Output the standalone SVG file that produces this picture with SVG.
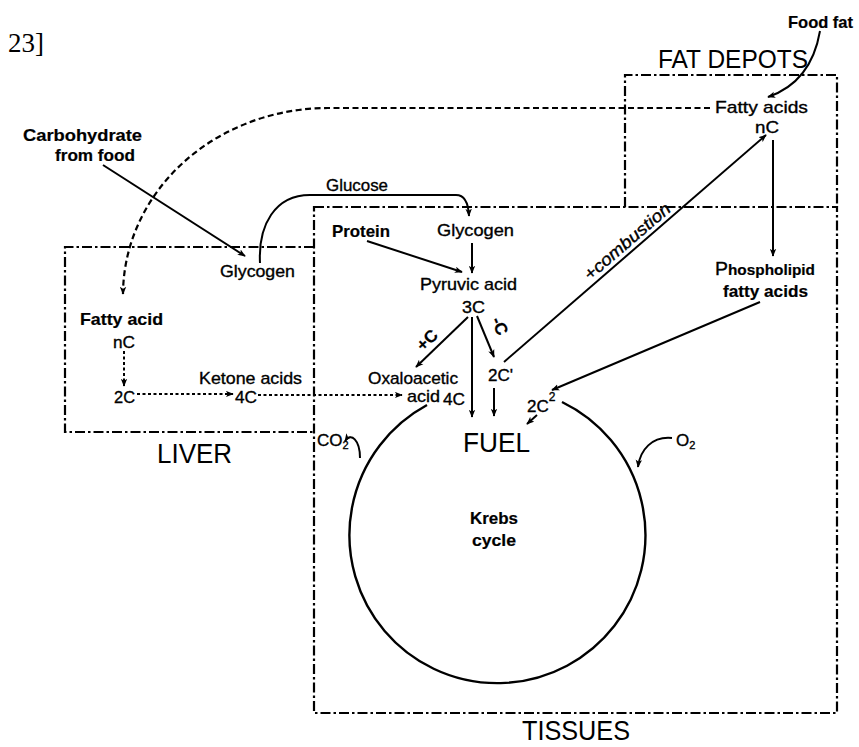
<svg xmlns="http://www.w3.org/2000/svg" width="859" height="747" viewBox="0 0 859 747">
<defs>
<style>
.t{font-family:"Liberation Sans",Arial,sans-serif;font-size:17px;fill:#000;stroke:#000;stroke-width:0.35}
.b{font-weight:bold;stroke-width:0.2}
.h{font-family:"Liberation Sans",Arial,sans-serif;fill:#000}
.box{fill:none;stroke:#000;stroke-width:2.2;stroke-dasharray:10 3 2.5 3}
.ln{fill:none;stroke:#000;stroke-width:2;marker-end:url(#ah)}
.dot{fill:none;stroke:#000;stroke-width:2;stroke-dasharray:3 2.5;marker-end:url(#ah)}
.dash{fill:none;stroke:#000;stroke-width:2.2;stroke-dasharray:6 3.5;marker-end:url(#ah)}
</style>
<marker id="ah" viewBox="0 0 10 8" refX="9" refY="4" markerWidth="8" markerHeight="7" markerUnits="userSpaceOnUse" orient="auto">
<path d="M0,0 L10,4 L0,8 L2.5,4 z" fill="#000"/>
</marker>
</defs>
<rect width="859" height="747" fill="#fff"/>

<text x="8" y="52" style="font-family:'Liberation Serif',serif;font-size:27px;fill:#000">23]</text>

<g id="fat-depots">
<path class="box" d="M625 207 V75 H837 V207"/>
<text class="h" x="658" y="68" font-size="25" textLength="150" lengthAdjust="spacingAndGlyphs">FAT DEPOTS</text>
</g>
<g id="tissues">
<rect class="box" x="314" y="207" width="523" height="506"/>
<text class="h" x="522" y="740" font-size="28" textLength="108" lengthAdjust="spacingAndGlyphs">TISSUES</text>
</g>
<g id="liver">
<path class="box" d="M314 247 H65 V432 H314"/>
<text class="h" x="157" y="463" font-size="27" textLength="75" lengthAdjust="spacingAndGlyphs">LIVER</text>
</g>

<g id="connectors">
<path class="ln" d="M103 165 L245 256"/>
<path class="ln" d="M260 263 C258 225 275 195 310 195 L456 195 Q468 195 469 216"/>
<path class="ln" d="M367 241 L462 272"/>
<path class="ln" d="M472 243 L472 273"/>
<path class="ln" d="M468 317 L416 367"/>
<path class="ln" d="M472 317 L472 417"/>
<path class="ln" d="M477 316 L494 357"/>
<path class="ln" d="M494 388 L494 416"/>
<path class="ln" d="M537 415 L527 424"/>
<path class="ln" d="M504 362 L766 135"/>
<path class="ln" d="M773 140 L773 256"/>
<path class="ln" d="M760 302 L552 390"/>
<path class="ln" d="M820 31 C815 60 800 86 768 97"/>
<path class="dash" d="M710 108 L328 108 A205 187 0 0 0 123 294"/>
<path class="dot" d="M124 351 L124 386"/>
<path class="dot" d="M137 394 L233 394"/>
<path class="dot" d="M258 395 L402 395"/>
<path class="ln" d="M360 458 C360 440 351 432 345 441"/>
<path class="ln" d="M672 438 C652 436 640 450 638 467"/>
</g>

<g id="food-fat"><text class="t b" x="788" y="28" font-size="16" textLength="65" lengthAdjust="spacingAndGlyphs">Food fat</text></g>
<g id="fatty-acids-depot">
<text class="t" x="715" y="113" textLength="93" lengthAdjust="spacingAndGlyphs">Fatty acids</text>
<text class="t" x="755" y="133" textLength="24" lengthAdjust="spacingAndGlyphs">nC</text>
</g>
<g id="carbohydrate">
<text class="t b" x="23" y="141" font-size="18" textLength="119" lengthAdjust="spacingAndGlyphs">Carbohydrate</text>
<text class="t b" x="55" y="161" textLength="80" lengthAdjust="spacingAndGlyphs">from food</text>
</g>
<g id="glucose"><text class="t" x="326" y="191" textLength="62" lengthAdjust="spacingAndGlyphs">Glucose</text></g>
<g id="protein"><text class="t b" x="332" y="237" textLength="58" lengthAdjust="spacingAndGlyphs">Protein</text></g>
<g id="glycogen-tissues"><text class="t" x="437" y="236" font-size="18" textLength="77" lengthAdjust="spacingAndGlyphs">Glycogen</text></g>
<g id="glycogen-liver"><text class="t" x="220" y="277" font-size="18" textLength="75" lengthAdjust="spacingAndGlyphs">Glycogen</text></g>
<g id="pyruvic-acid">
<text class="t" x="420" y="290" textLength="97" lengthAdjust="spacingAndGlyphs">Pyruvic acid</text>
<text class="t" x="462" y="313" font-size="20" textLength="23" lengthAdjust="spacingAndGlyphs">3C</text>
</g>
<g id="label-plus-c"><text class="t b" x="0" y="0" font-size="16" transform="translate(423 352) rotate(-44)">+C</text></g>
<g id="label-minus-c"><text class="t b" x="0" y="0" font-size="16" transform="translate(491 320) rotate(67)">-C</text></g>
<g id="label-combustion"><text class="t" x="0" y="0" font-style="italic" transform="translate(590 281) rotate(-40.7)" textLength="108" lengthAdjust="spacingAndGlyphs">+combustion</text></g>
<g id="fatty-acid-liver">
<text class="t b" x="80" y="325" textLength="83" lengthAdjust="spacingAndGlyphs">Fatty acid</text>
<text class="t" x="113" y="348" font-size="18" textLength="22" lengthAdjust="spacingAndGlyphs">nC</text>
</g>
<g id="phospholipid">
<text class="t" x="715" y="275" textLength="100" lengthAdjust="spacingAndGlyphs"><tspan font-size="19">P</tspan><tspan class="b" font-size="15">hospholipid</tspan></text>
<text class="t b" x="723" y="297" textLength="85" lengthAdjust="spacingAndGlyphs">fatty acids</text>
</g>
<g id="ketone-acids"><text class="t" x="199" y="384" textLength="103" lengthAdjust="spacingAndGlyphs">Ketone acids</text></g>
<g id="liver-2c"><text class="t" x="114" y="403" font-size="18" textLength="21" lengthAdjust="spacingAndGlyphs">2C</text></g>
<g id="liver-4c"><text class="t" x="235" y="403" font-size="18" textLength="22" lengthAdjust="spacingAndGlyphs">4C</text></g>
<g id="oxaloacetic">
<text class="t" x="368" y="384" font-size="16" textLength="90" lengthAdjust="spacingAndGlyphs">Oxaloacetic</text>
<text class="t" x="407" y="402" font-size="16" textLength="33" lengthAdjust="spacingAndGlyphs">acid</text>
<text class="t" x="443" y="405" font-size="18" textLength="22" lengthAdjust="spacingAndGlyphs">4C</text>
</g>
<g id="two-c-prime"><text class="t" x="488" y="381" font-size="18" textLength="25" lengthAdjust="spacingAndGlyphs">2C'</text></g>
<g id="two-c-2"><text class="t" x="527" y="412" font-size="18">2C<tspan font-size="12" dy="-11">2</tspan></text></g>
<g id="fuel"><text class="h" x="463" y="452" font-size="27" textLength="67" lengthAdjust="spacingAndGlyphs">FUEL</text></g>
<g id="co2"><text class="t" x="317" y="446">CO<tspan font-size="11" dy="3">2</tspan></text></g>
<g id="o2"><text class="t" x="676" y="446">O<tspan font-size="11" dy="3">2</tspan></text></g>
<g id="krebs">
<path d="M427 405 A148 148 0 1 0 562 402" fill="none" stroke="#000" stroke-width="2.4"/>
<text class="t b" x="470" y="524" textLength="48" lengthAdjust="spacingAndGlyphs">Krebs</text>
<text class="t b" x="472" y="546" textLength="44" lengthAdjust="spacingAndGlyphs">cycle</text>
</g>
</svg>
